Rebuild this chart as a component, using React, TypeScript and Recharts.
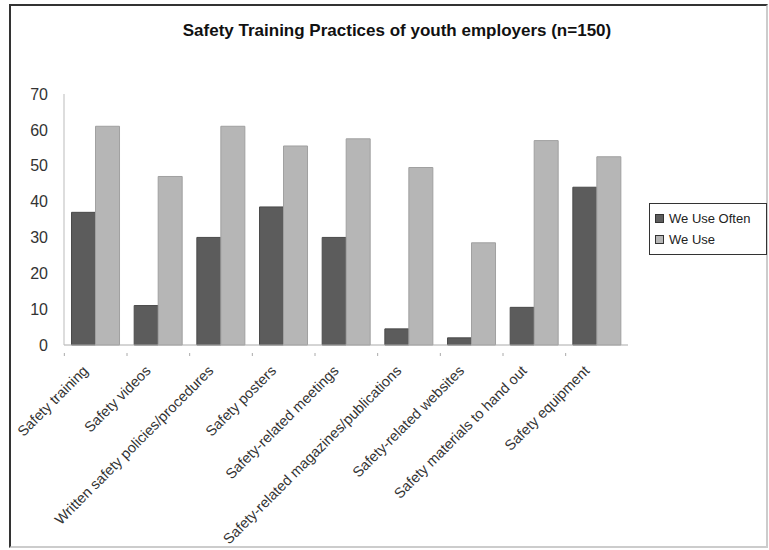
import React from "react";
import { BarChart, Bar, XAxis, YAxis, Legend } from "recharts";

const categories = [
  "Safety training",
  "Safety videos",
  "Written safety policies/procedures",
  "Safety posters",
  "Safety-related meetings",
  "Safety-related magazines/publications",
  "Safety-related  websites",
  "Safety materials to hand out",
  "Safety equipment",
];
const useOften = [37, 11, 30, 38.5, 30, 4.5, 2, 10.5, 44];
const weUse = [61, 47, 61, 55.5, 57.5, 49.5, 28.5, 57, 52.5];
const yTicks = [0, 10, 20, 30, 40, 50, 60, 70];
const seriesNames = ["We Use Often", "We Use"];

const data = categories.map((c, i) => ({ name: c, often: useOften[i], use: weUse[i] }));

const FONT = "'Liberation Sans', Arial, sans-serif";
const DARK = "#5c5c5c";
const LIGHT = "#b6b6b6";

const XTick = (props: any) => {
  const { x, y, payload } = props;
  return (
    <g>
      <line x1={x - 31} y1={y} x2={x - 31} y2={y + 3} stroke="#aaa" />
      <text
        x={x - 9}
        y={y + 16}
        transform={`rotate(-45, ${x - 9}, ${y + 16})`}
        textAnchor="end"
        dominantBaseline="middle"
        fontSize={14.5}
        fontFamily={FONT}
        fill="#333"
      >
        {payload.value}
      </text>
    </g>
  );
};

const LegendBox = () => (
  <div
    style={{
      border: "1px solid #333",
      padding: "4px 4px 4px 5px",
      fontFamily: FONT,
      fontSize: 13,
      color: "#222",
      background: "#fff",
      boxSizing: "border-box",
      width: 118,
    }}
  >
    {seriesNames.map((n, i) => (
      <div key={n} style={{ display: "flex", alignItems: "center", height: 21 }}>
        <span
          style={{
            display: "inline-block",
            width: 7,
            height: 7,
            background: i === 0 ? DARK : LIGHT,
            border: "1px solid #333",
            marginRight: 5,
          }}
        />
        {n}
      </div>
    ))}
  </div>
);

export default function App() {
  return (
    <div style={{ position: "absolute", left: 0, top: 0, width: 769, height: 550, background: "#fff" }}>
      <div
        style={{
          position: "absolute",
          left: 9,
          top: 4,
          width: 755,
          height: 540,
          border: "2px solid #333",
          borderRightColor: "#ccc",
          borderBottomColor: "#ccc",
        }}
      />
      <div
        style={{
          position: "absolute",
          left: 0,
          width: 794,
          top: 21,
          textAlign: "center",
          fontFamily: FONT,
          fontWeight: "bold",
          fontSize: 17,
          color: "#111",
        }}
      >
        Safety Training Practices of youth employers (n=150)
      </div>
      <div style={{ position: "absolute", left: 0, top: 0 }}>
        <BarChart
          width={769}
          height={550}
          data={data}
          margin={{ top: 94, right: 141, bottom: 0, left: 14 }}
          barCategoryGap="12%"
          barGap={0}
        >
          <XAxis
            dataKey="name"
            interval={0}
            tick={<XTick />}
            tickLine={false}
            axisLine={{ stroke: "#aaa" }}
            height={205}
          />
          <YAxis
            domain={[0, 70]}
            ticks={yTicks}
            width={50}
            tickLine={false}
            axisLine={{ stroke: "#bbb" }}
            tick={{ fontSize: 16, fontFamily: FONT, fill: "#333" }}
            tickMargin={10}
          />
          <Legend
            layout="horizontal"
            verticalAlign="middle"
            align="center"
            content={<LegendBox />}
            wrapperStyle={{ left: 649, top: 203, width: 118 }}
          />
          <Bar dataKey="often" name={seriesNames[0]} fill={DARK} stroke="#4a4a4a" isAnimationActive={false} />
          <Bar dataKey="use" name={seriesNames[1]} fill={LIGHT} stroke="#a0a0a0" isAnimationActive={false} />
        </BarChart>
      </div>
    </div>
  );
}
